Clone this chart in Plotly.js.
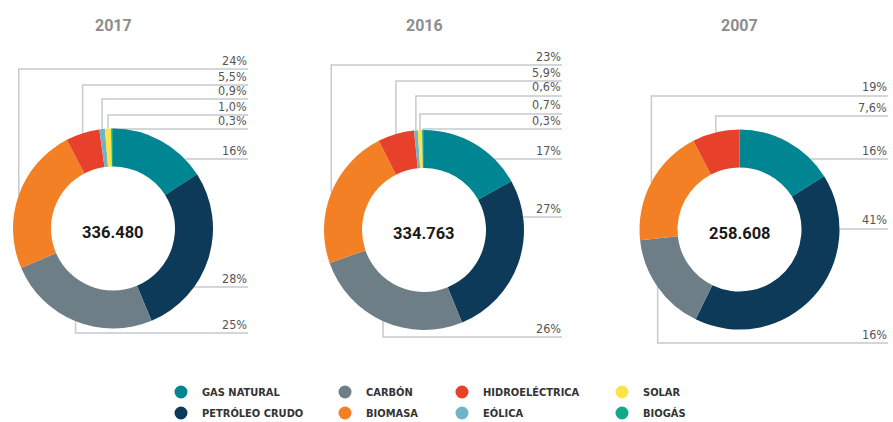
<!DOCTYPE html>
<html>
<head>
<meta charset="utf-8">
<script src="https://cdn.plot.ly/plotly-3.0.1.min.js"></script>
<style>
html,body{margin:0;padding:0;background:#fff;}
#chart{width:893px;height:422px;}
</style>
</head>
<body>
<div id="chart"></div>
<script>
// ---- data ----
const categories = ['GAS NATURAL','PETRÓLEO CRUDO','CARBÓN','BIOMASA','HIDROELÉCTRICA','EÓLICA','SOLAR','BIOGÁS'];
const years = ['2017','2016','2007'];
const values2017 = [16, 28, 25, 24, 5.5, 0.9, 1.0, 0.3];
const values2016 = [17, 27, 26, 23, 5.9, 0.6, 0.7, 0.3];
const values2007 = [16, 41, 16, 19, 7.6, 0, 0, 0];
const totals = [336480, 334763, 258608];
const colors = ['#008592','#0c3a58','#6d7e86','#f38024','#e8412b','#70b3c9','#fbe34a','#14a88b'];

// ---- layout config (positions in px) ----
const W = 893, H = 422;
const R = 100, HOLE = 0.62;
const charts = [
  {values: values2017, cx: 113, cy: 228.5, labelX: 248, lineY: [159, 287, 333, 69, 85, 99, 115, 129]},
  {values: values2016, cx: 424, cy: 230,   labelX: 562, lineY: [159, 217, 337, 65, 81, 96, 114, 129]},
  {values: values2007, cx: 739.5, cy: 229.5, labelX: 888, lineY: [159, 229, 343, 96, 116, 0, 0, 0]}
];
const titleY = 25;
const legendCols = [181, 345, 462, 622];
const legendRows = [392, 413];

const px = x => x / W;
const py = y => 1 - y / H;
const fmtPct = v => (v >= 10 ? v.toFixed(0) : v.toFixed(1).replace('.', ',')) + '%';
const fmtTotal = t => String(t).replace(/\B(?=(\d{3})+(?!\d))/g, '.');

const labelFont = {family: 'DejaVu Sans Condensed, sans-serif', size: 12.5, color: '#555'};
const legendFont = {family: 'DejaVu Sans Condensed, sans-serif', size: 11, color: '#333', weight: 'bold'};
const lineColor = '#c6cacd';

const data = [];
const shapes = [];
const annotations = [];

charts.forEach((c, k) => {
  data.push({
    type: 'pie',
    values: c.values,
    labels: categories,
    marker: {colors: colors, line: {width: 0}},
    sort: false,
    direction: 'clockwise',
    rotation: 0,
    hole: HOLE,
    textinfo: 'none',
    hoverinfo: 'skip',
    showlegend: false,
    domain: {x: [px(c.cx - R), px(c.cx + R)], y: [py(c.cy + R), py(c.cy - R)]}
  });
  // title
  annotations.push({
    x: px(c.cx), y: py(titleY), xref: 'paper', yref: 'paper', showarrow: false,
    text: '<b>' + years[k] + '</b>', font: {family: 'Roboto, sans-serif', size: 16, color: '#8d8d8d'},
    xanchor: 'center', yanchor: 'middle'
  });
  // center total
  annotations.push({
    x: px(c.cx), y: py(c.cy + 4), xref: 'paper', yref: 'paper', showarrow: false,
    text: '<b>' + fmtTotal(totals[k]) + '</b>', font: {family: 'Roboto, sans-serif', size: 16.5, color: '#1a1a1a'},
    xanchor: 'center', yanchor: 'middle'
  });
  // callouts
  const sum = c.values.reduce((a, b) => a + b, 0);
  let cum = 0;
  c.values.forEach((v, i) => {
    const a0 = cum / sum * 360;
    cum += v;
    const a1 = cum / sum * 360;
    if (!v) return;
    const mid = (a0 + a1) / 2 * Math.PI / 180;
    const ly = c.lineY[i];
    let path;
    if ((a0 + a1) / 2 < 180 && Math.abs(ly - c.cy) < R) {
      const ax = c.cx + Math.sqrt(R * R - (ly - c.cy) * (ly - c.cy));
      path = `M${px(ax)},${py(ly)} L${px(c.labelX)},${py(ly)}`;
    } else {
      const ax = c.cx + R * Math.sin(mid);
      const ay = c.cy - R * Math.cos(mid);
      path = `M${px(ax)},${py(ay)} L${px(ax)},${py(ly)} L${px(c.labelX)},${py(ly)}`;
    }
    shapes.push({type: 'path', xref: 'paper', yref: 'paper', path: path, line: {color: lineColor, width: 1.5}, layer: 'below'});
    annotations.push({
      x: px(c.labelX), y: py(ly - 0.5), xref: 'paper', yref: 'paper', showarrow: false,
      text: fmtPct(v), font: labelFont, xanchor: 'right', yanchor: 'bottom', borderpad: 0
    });
  });
});

// legend (4 columns x 2 rows)
categories.forEach((cat, i) => {
  const col = Math.floor(i / 2), row = i % 2;
  const x = legendCols[col], y = legendRows[row];
  shapes.push({type: 'circle', xref: 'paper', yref: 'paper',
    x0: px(x - 6.5), x1: px(x + 6.5), y0: py(y + 6.5), y1: py(y - 6.5),
    fillcolor: colors[i], line: {width: 0}});
  annotations.push({
    x: px(x + 19), y: py(y), xref: 'paper', yref: 'paper', showarrow: false,
    text: cat, font: legendFont,
    xanchor: 'left', yanchor: 'middle'
  });
});

const layout = {
  width: W, height: H,
  margin: {l: 0, r: 0, t: 0, b: 0},
  paper_bgcolor: '#fff', plot_bgcolor: '#fff',
  showlegend: false,
  shapes: shapes,
  annotations: annotations
};

Plotly.newPlot('chart', data, layout, {displayModeBar: false, staticPlot: true});
</script>
</body>
</html>
